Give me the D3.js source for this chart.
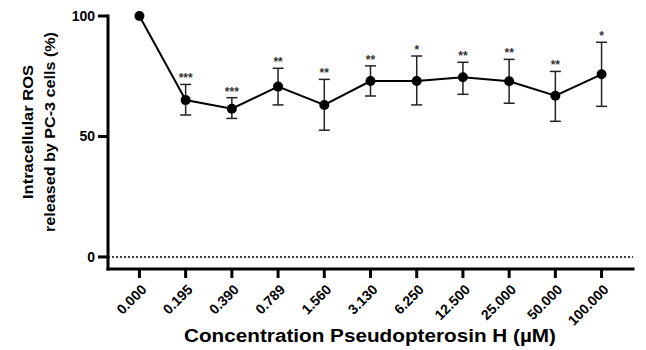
<!DOCTYPE html>
<html>
<head>
<meta charset="utf-8">
<script src="https://cdn.jsdelivr.net/npm/d3@7"></script>
</head>
<body style="margin:0;background:#fff">
<div id="chart"></div>
<script>
const concentrations = ["0.000", "0.195", "0.390", "0.789", "1.560", "3.130", "6.250", "12.500", "25.000", "50.000", "100.000"];
const meanROS = [100, 65.1, 61.5, 70.7, 63.1, 73.0, 73.0, 74.6, 72.9, 66.9, 75.8];
const errUpper = [100, 71.6, 66.1, 78.3, 73.7, 79.3, 83.4, 80.8, 82.0, 77.0, 89.1];
const errLower = [100, 58.9, 57.5, 63.1, 52.6, 66.8, 63.1, 67.5, 63.8, 56.3, 62.5];
const stars = ["", "***", "***", "**", "**", "**", "*", "**", "**", "**", "*"];
const yTicks = [0, 50, 100];

const width = 646, height = 350;
const font = "'Liberation Sans', Arial, sans-serif";

const svg = d3.select("#chart")
    .append("svg")
    .attr("width", width)
    .attr("height", height)
    .attr("font-family", font);

const x = d3.scalePoint()
    .domain(concentrations)
    .range([108, 633])
    .padding(0.68);

const y = d3.scaleLinear()
    .domain([-5, 100])
    .range([269, 16]);

const x0 = x.range()[0], x1 = x.range()[1];
const yBase = y(-5);

// axis lines and tick marks as filled rects
const axisMarks = svg.append("g").attr("fill", "#000");
axisMarks.append("rect")
    .attr("x", x0 - 1.5).attr("y", y(100) - 1.5)
    .attr("width", 3).attr("height", yBase - y(100) + 3);
axisMarks.append("rect")
    .attr("x", x0 - 1.5).attr("y", yBase - 1.5)
    .attr("width", x1 - x0 + 3).attr("height", 3);
axisMarks.selectAll(".xt")
    .data(concentrations)
    .join("rect")
    .attr("class", "xt")
    .attr("x", d => x(d) - 1.5).attr("y", yBase)
    .attr("width", 3).attr("height", 9);
axisMarks.selectAll(".yt")
    .data(yTicks)
    .join("rect")
    .attr("class", "yt")
    .attr("x", x0 - 10).attr("y", d => y(d) - 1.5)
    .attr("width", 10).attr("height", 3);

// dotted zero line
svg.append("line")
    .attr("x1", x0)
    .attr("x2", x1)
    .attr("y1", y(0))
    .attr("y2", y(0))
    .attr("stroke", "#000")
    .attr("stroke-width", 1.5)
    .attr("stroke-dasharray", "2,2");

// error bars
const bars = svg.append("g");
const capW = 5.5;
concentrations.forEach((c, i) => {
    if (errUpper[i] === errLower[i]) return;
    const cx = x(c);
    bars.append("line")
        .attr("x1", cx).attr("x2", cx)
        .attr("y1", y(errUpper[i])).attr("y2", y(errLower[i]))
        .attr("stroke", "#222").attr("stroke-width", 1.5);
    [errUpper[i], errLower[i]].forEach(v => {
        bars.append("line")
            .attr("x1", cx - capW).attr("x2", cx + capW)
            .attr("y1", y(v)).attr("y2", y(v))
            .attr("stroke", "#222").attr("stroke-width", 1.5);
    });
});

// mean line + points
const meanLine = d3.line()
    .x((d, i) => x(concentrations[i]))
    .y(d => y(d));

svg.append("path")
    .datum(meanROS)
    .attr("d", meanLine)
    .attr("fill", "none")
    .attr("stroke", "#000")
    .attr("stroke-width", 2);

svg.append("g")
    .selectAll("circle")
    .data(meanROS)
    .join("circle")
    .attr("cx", (d, i) => x(concentrations[i]))
    .attr("cy", d => y(d))
    .attr("r", 5)
    .attr("fill", "#000");

// significance stars
svg.append("g")
    .selectAll("text")
    .data(stars)
    .join("text")
    .attr("x", (d, i) => x(concentrations[i]))
    .attr("y", (d, i) => y(errUpper[i]) - 2)
    .attr("text-anchor", "middle")
    .attr("font-size", 12)
    .attr("font-weight", "bold")
    .attr("fill", "#333")
    .text(d => d);

// axis titles
svg.append("text")
    .attr("x", 370)
    .attr("y", 342)
    .attr("text-anchor", "middle")
    .attr("font-size", 18)
    .attr("font-weight", "bold")
    .attr("textLength", 372)
    .attr("lengthAdjust", "spacingAndGlyphs")
    .text("Concentration Pseudopterosin H (µM)");

const yTitle = svg.append("text")
    .attr("transform", "translate(0,132) rotate(-90)")
    .attr("text-anchor", "middle")
    .attr("font-size", 15)
    .attr("font-weight", "bold");

yTitle.append("tspan").attr("x", 0).attr("y", 33)
    .attr("textLength", 134).attr("lengthAdjust", "spacingAndGlyphs")
    .text("Intracellular ROS");
yTitle.append("tspan").attr("x", 0).attr("y", 55)
    .attr("textLength", 200).attr("lengthAdjust", "spacingAndGlyphs")
    .text("released by PC-3 cells (%)");

// tick labels from d3 axes
const xAxis = svg.append("g")
    .attr("transform", `translate(0,${yBase})`)
    .call(d3.axisBottom(x).tickSize(0));
xAxis.select(".domain").remove();
xAxis.selectAll(".tick line").remove();
xAxis.selectAll("text")
    .attr("font-family", font)
    .attr("font-size", 14)
    .attr("font-weight", "bold")
    .attr("fill", "#000")
    .attr("text-anchor", "end")
    .attr("x", 0).attr("y", 0)
    .attr("dx", 0).attr("dy", "0.35em")
    .attr("transform", "translate(4,18) rotate(-45)");

const yAxis = svg.append("g")
    .attr("transform", `translate(${x0},0)`)
    .call(d3.axisLeft(y).tickValues(yTicks).tickSize(0).tickPadding(13));
yAxis.select(".domain").remove();
yAxis.selectAll(".tick line").remove();
yAxis.selectAll("text")
    .attr("font-family", font)
    .attr("font-size", 14)
    .attr("font-weight", "bold")
    .attr("fill", "#000");
</script>
</body>
</html>
